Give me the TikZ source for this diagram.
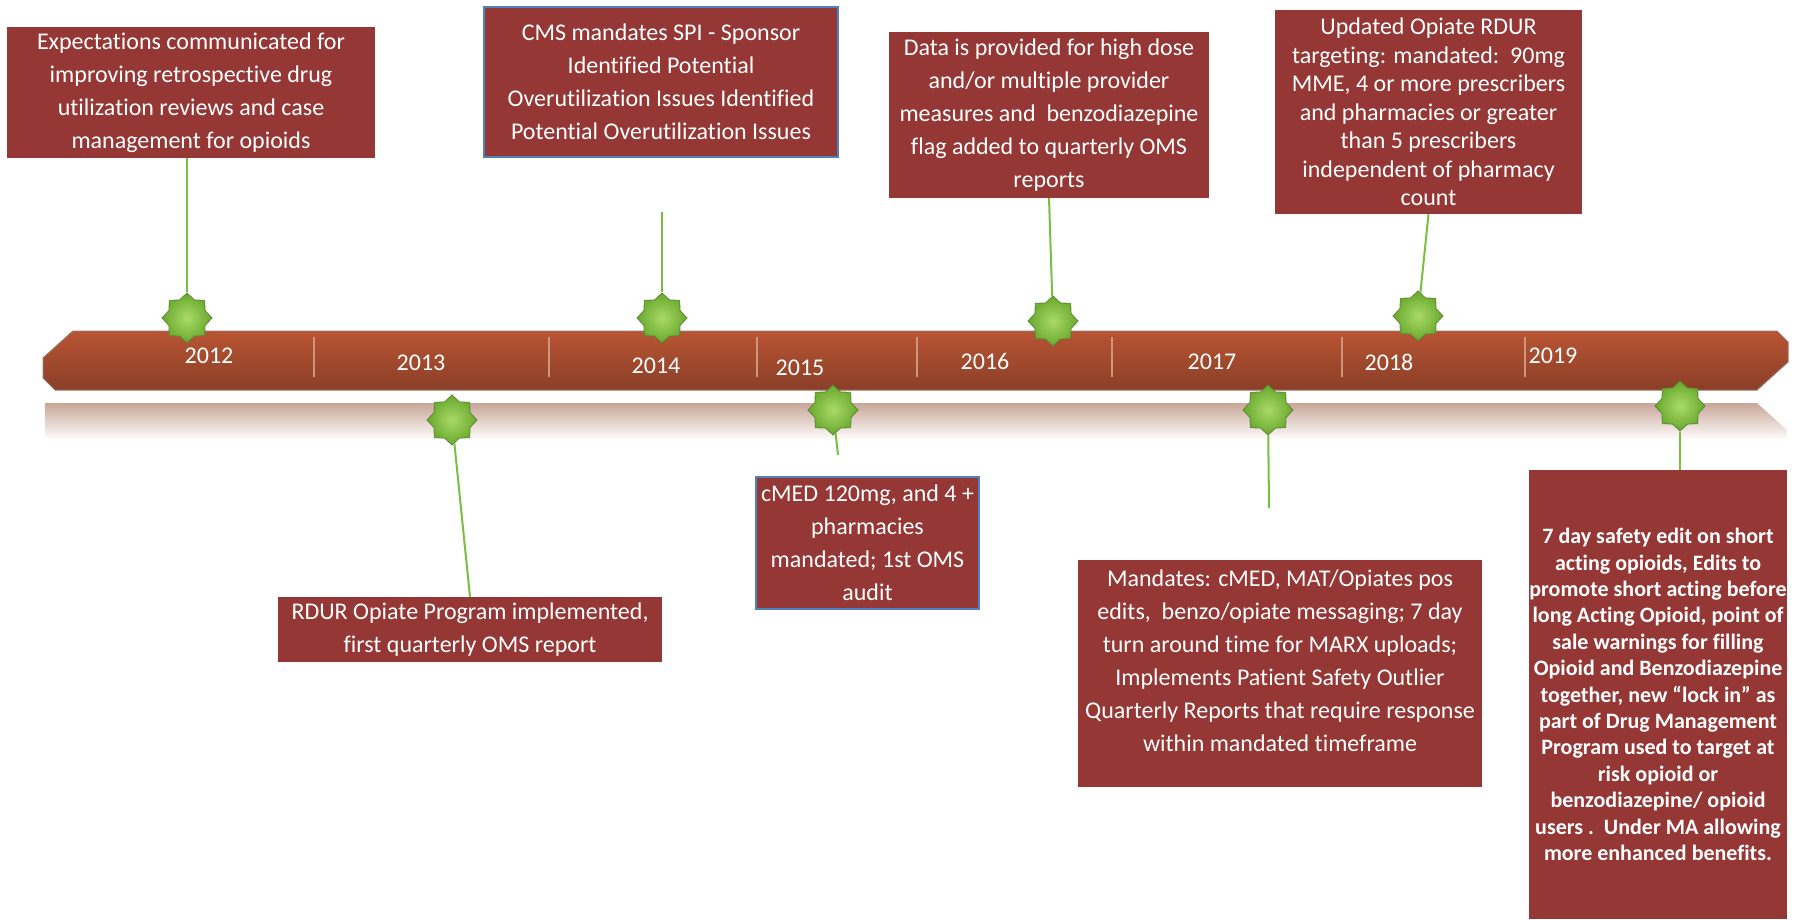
\documentclass[tikz,border=0pt]{standalone}
\usepackage{fontspec}
\setmainfont[Ligatures={TeX,NoCommon}]{Carlito}
\usetikzlibrary{shapes}
\definecolor{boxred}{RGB}{149,55,53}
\definecolor{edgeblue}{RGB}{79,129,189}
\definecolor{stemgreen}{RGB}{122,190,64}
\definecolor{starlight}{RGB}{170,218,104}
\definecolor{stardeep}{RGB}{104,168,44}
\definecolor{stardark}{RGB}{92,134,52}
\definecolor{bartop}{RGB}{184,84,50}
\definecolor{barmid}{RGB}{168,76,45}
\definecolor{barbottom}{RGB}{138,63,40}
\definecolor{baredge}{RGB}{150,118,106}
\definecolor{sepline}{RGB}{206,150,126}
\definecolor{reflecttop}{RGB}{200,166,152}

\begin{document}
\begin{tikzpicture}[x=1pt,y=-1pt]
      \tikzstyle{every node}+=[inner sep=0pt]
      \tikzstyle{event}=[fill=boxred, text=white, align=center, font=\fontsize{24}{33}\selectfont]
      \tikzstyle{blueedge}=[draw=edgeblue, line width=2pt]
      \tikzstyle{gstar}=[star, star points=8, star point ratio=1.28, minimum size=50pt, inner color=starlight, outer color=stardeep, draw=stardark, line width=0.8pt]
      \tikzstyle{stem}=[draw=stemgreen, line width=2pt]
      \tikzstyle{yearlabel}=[text=white, font=\fontsize{24}{28}\selectfont]
      \tikzstyle{yearsep}=[draw=sepline, line width=1.2pt]
      \useasboundingbox (0,0) rectangle (1798,919);
      % bar and its reflection
      \shade [top color=reflecttop, bottom color=white] (45,403) -- (1757,403) -- (1787,430) -- (1787,440) -- (45,440) -- cycle;
      \shadedraw [draw=baredge, line width=1pt, top color=bartop, middle color=barmid, bottom color=barbottom] (73,331) -- (1777,331) -- (1788,342) -- (1788,362) -- (1757,390) -- (55,390) -- (43,378) -- (43,358) -- cycle;
      \draw [yearsep] (314,337) -- (314,377);
      \draw [yearsep] (549,337) -- (549,377);
      \draw [yearsep] (757,337) -- (757,377);
      \draw [yearsep] (917,337) -- (917,377);
      \draw [yearsep] (1112,337) -- (1112,377);
      \draw [yearsep] (1342,337) -- (1342,377);
      \draw [yearsep] (1525,337) -- (1525,377);
      \node [yearlabel] (y2012) at (209,356) {2012};
      \node [yearlabel] (y2013) at (421,363) {2013};
      \node [yearlabel] (y2014) at (656,366) {2014};
      \node [yearlabel] (y2015) at (800,368) {2015};
      \node [yearlabel] (y2016) at (985,361) {2016};
      \node [yearlabel] (y2017) at (1212,362) {2017};
      \node [yearlabel] (y2018) at (1389,362) {2018};
      \node [yearlabel] (y2019) at (1553,356) {2019};
      % events
      \node [event, minimum width=368pt, minimum height=131pt] (e2012) at (191,92.5) {Expectations communicated for\\improving retrospective drug\\utilization reviews and case\\management for opioids};
      \node [event, minimum width=384pt, minimum height=65pt] (e2013) at (470,629.5) {RDUR Opiate Program implemented,\\first quarterly OMS report};
      \node [event, blueedge, minimum width=354pt, minimum height=150pt] (e2014) at (661,82) {CMS mandates SPI - Sponsor\\Identified Potential\\Overutilization Issues Identified\\Potential Overutilization Issues};
      \node [event, blueedge, minimum width=223pt, minimum height=132pt] (e2015) at (867.5,543) {cMED 120mg, and 4 +\\pharmacies\\mandated; 1st OMS\\audit};
      \node [event, minimum width=320pt, minimum height=166pt] (e2016) at (1049,115) {Data is provided for high dose\\and/or multiple provider\\measures and\ \ benzodiazepine\\flag added to quarterly OMS\\reports};
      \node [event, minimum width=404pt, minimum height=227pt] (e2017) at (1280,673.5) {Mandates: cMED, MAT/Opiates pos\\edits,\ \ benzo/opiate messaging; 7 day\\turn around time for MARX uploads;\\Implements Patient Safety Outlier\\Quarterly Reports that require response\\within mandated timeframe\\[-8pt]\mbox{}};
      \node [event, minimum width=307pt, minimum height=204pt, font=\fontsize{24}{28.5}\selectfont] (e2018) at (1428.5,112) {Updated Opiate RDUR\\targeting: mandated:\ \ 90mg\\MME, 4 or more prescribers\\and pharmacies or greater\\than 5 prescribers\\independent of pharmacy\\count};
      \node [event, minimum width=256pt, minimum height=449pt, font=\fontsize{22}{26.4}\selectfont\bfseries] (e2019) at (1658,694.5) {7 day safety edit on short\\acting opioids, Edits to\\promote short acting before\\long Acting Opioid, point of\\sale warnings for filling\\Opioid and Benzodiazepine\\together, new ``lock in'' as\\part of Drug Management\\Program used to target at\\risk opioid or\\benzodiazepine/ opioid\\users .\ \ Under MA allowing\\more enhanced benefits.};
      % stars on the bar
      \node [gstar] (s2012) at (187,318) {};
      \node [gstar] (s2013) at (452,420) {};
      \node [gstar] (s2014) at (662,318) {};
      \node [gstar] (s2015) at (833,410) {};
      \node [gstar] (s2016) at (1053,321) {};
      \node [gstar] (s2017) at (1268,410) {};
      \node [gstar] (s2018) at (1418,316) {};
      \node [gstar] (s2019) at (1680,406) {};
      \coordinate (t2014) at (662,212);
      \coordinate (t2015) at (838,455);
      \coordinate (t2017) at (1269,508);
      % stems
      \draw [stem] (e2012.south -| s2012) -- (s2012);
      \draw [stem] (s2013) -- (e2013.north);
      \draw [stem] (t2014) -- (s2014);
      \draw [stem] (s2015) -- (t2015);
      \draw [stem] (e2016.south) -- (s2016);
      \draw [stem] (s2017) -- (t2017);
      \draw [stem] (e2018.south) -- (s2018);
      \draw [stem] (s2019) -- (s2019 |- e2019.north);
      \end{tikzpicture}
\end{document}
